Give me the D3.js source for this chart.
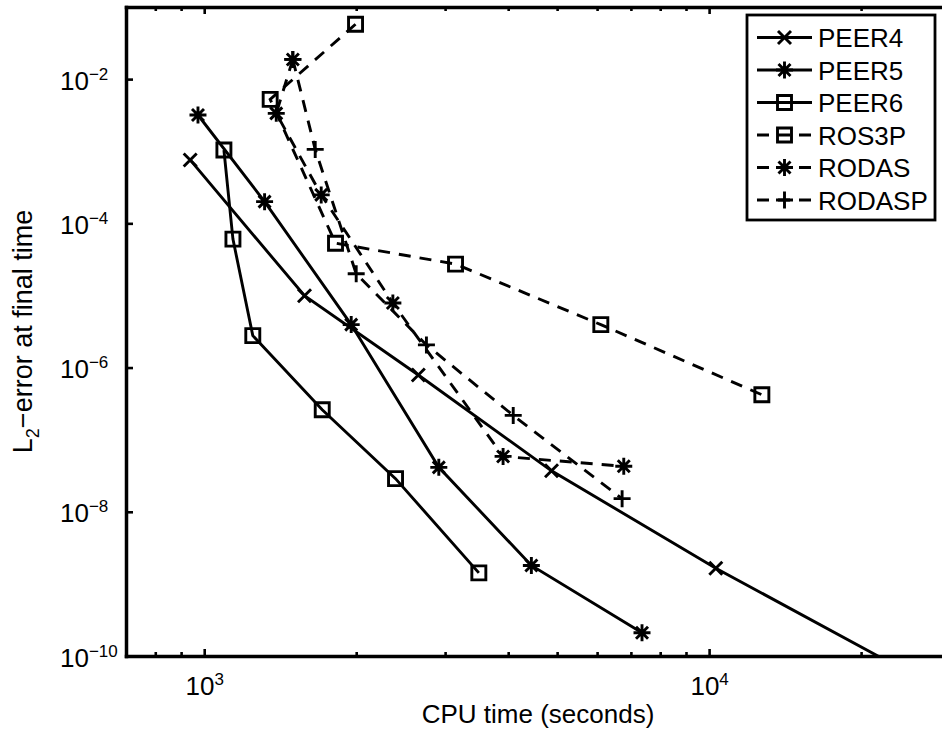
<!DOCTYPE html>
<html>
<head>
<meta charset="utf-8">
<script src="https://cdn.jsdelivr.net/npm/d3@7"></script>
<style>
body { margin: 0; background: #fff; }
svg { display: block; font-family: "Liberation Sans", Arial, Helvetica, sans-serif; }
</style>
</head>
<body>
<div id="chart"></div>
<script>
// values (CPU time in seconds, L2 error at final time)
const seriesNames = ["PEER4", "PEER5", "PEER6", "ROS3P", "RODAS", "RODASP"];

const cpuPEER4 = [938, 1580, 2655, 4874, 10310, 23900];
const errPEER4 = [7.57e-4, 9.9e-6, 7.9e-7, 3.7e-8, 1.65e-9, 6.8e-11];

const cpuPEER5 = [972, 1317, 1955, 2915, 4446, 7364];
const errPEER5 = [3.18e-3, 2.0e-4, 3.94e-6, 4.13e-8, 1.8e-9, 2.1e-10];

const cpuPEER6 = [1094, 1140, 1248, 1713, 2393, 3499];
const errPEER6 = [1.04e-3, 6.04e-5, 2.77e-6, 2.6e-7, 2.88e-8, 1.42e-9];

const cpuROS3P = [1994, 1351, 1820, 3146, 6103, 12720];
const errROS3P = [5.77e-2, 5.24e-3, 5.3e-5, 2.72e-5, 3.94e-6, 4.2e-7];

const cpuRODAS = [1498, 1389, 1705, 2364, 3908, 6776];
const errRODAS = [1.875e-2, 3.35e-3, 2.48e-4, 7.85e-6, 5.86e-8, 4.27e-8];

const cpuRODASP = [1498, 1659, 2000, 2755, 4093, 6725];
const errRODASP = [1.875e-2, 1.06e-3, 2.0e-5, 2.06e-6, 2.17e-7, 1.52e-8];

const xLimits = [700, 30000];
const yLimits = [1e-10, 1e-1];
const xMajorTicks = [1e3, 1e4];
const xMinorTicks = [800, 900, 2000, 3000, 4000, 5000, 6000, 7000, 8000, 9000, 20000];
const yTicks = [1e-10, 1e-8, 1e-6, 1e-4, 1e-2];

const xLabel = "CPU time (seconds)";

// styles per series
const styles = {
    PEER4:  { marker: "x",      dashed: false },
    PEER5:  { marker: "star",   dashed: false },
    PEER6:  { marker: "square", dashed: false },
    ROS3P:  { marker: "square", dashed: true },
    RODAS:  { marker: "star",   dashed: true },
    RODASP: { marker: "plus",   dashed: true }
};

const series = [
    { name: "PEER4", cpu: cpuPEER4, err: errPEER4 },
    { name: "PEER5", cpu: cpuPEER5, err: errPEER5 },
    { name: "PEER6", cpu: cpuPEER6, err: errPEER6 },
    { name: "ROS3P", cpu: cpuROS3P, err: errROS3P },
    { name: "RODAS", cpu: cpuRODAS, err: errRODAS },
    { name: "RODASP", cpu: cpuRODASP, err: errRODASP }
].map(s => ({ name: s.name, points: d3.zip(s.cpu, s.err).map(([t, e]) => ({ t, e })) }));

const W = 942, H = 733;
const box = { left: 126, right: 950, top: 7, bottom: 656 };
const lw = 2.9;
const dash = "12,9";

function markerPath(type) {
    if (type === "x") { const r = 6.5; return `M${-r},${-r}L${r},${r}M${-r},${r}L${r},${-r}`; }
    if (type === "plus") { const r = 8.5; return `M${-r},0H${r}M0,${-r}V${r}`; }
    if (type === "star") { const r = 8.5, d = 6; return `M${-r},0H${r}M0,${-r}V${r}M${-d},${-d}L${d},${d}M${-d},${d}L${d},${-d}`; }
    const s = 7; return `M${-s},${-s}H${s}V${s}H${-s}Z`;
}

const svg = d3.select("#chart").append("svg")
    .attr("width", W).attr("height", H);

const x = d3.scaleLog().domain(xLimits).range([box.left, box.right]);
const y = d3.scaleLog().domain(yLimits).range([box.bottom, box.top]);

svg.append("defs").append("clipPath").attr("id", "plot-clip")
  .append("rect")
    .attr("x", box.left).attr("y", box.top)
    .attr("width", box.right - box.left).attr("height", box.bottom - box.top);

// data
const plot = svg.append("g").attr("clip-path", "url(#plot-clip)");
const line = d3.line().x(d => x(d.t)).y(d => y(d.e));

series.forEach(s => {
    const st = styles[s.name];
    plot.append("path")
        .datum(s.points)
        .attr("d", line)
        .attr("fill", "none")
        .attr("stroke", "#000")
        .attr("stroke-width", lw)
        .attr("stroke-dasharray", st.dashed ? dash : null);
    plot.selectAll(null)
        .data(s.points)
        .enter().append("path")
        .attr("transform", d => `translate(${x(d.t)},${y(d.e)})`)
        .attr("d", markerPath(st.marker))
        .attr("fill", "none")
        .attr("stroke", "#000")
        .attr("stroke-width", lw);
});

// axes (ticks point inwards like MATLAB)
function styleAxis(g, keepDomain) {
    if (keepDomain) g.select(".domain").attr("stroke-width", 3.5).attr("stroke-linecap", "square");
    else g.select(".domain").remove();
    g.selectAll(".tick line").attr("stroke-width", 2.6);
}

const gxMajor = svg.append("g").attr("transform", `translate(0,${box.bottom})`)
    .call(d3.axisBottom(x).tickValues(xMajorTicks).tickSizeInner(-7).tickSizeOuter(0));
styleAxis(gxMajor, true);
svg.append("g").attr("transform", `translate(0,${box.bottom})`)
    .call(d3.axisBottom(x).tickValues(xMinorTicks).tickSizeInner(-4).tickSizeOuter(0).tickFormat(""))
    .call(g => styleAxis(g, false));
svg.append("g").attr("transform", `translate(0,${box.top})`)
    .call(d3.axisTop(x).tickValues(xMajorTicks).tickSizeInner(-7).tickSizeOuter(0).tickFormat(""))
    .call(g => styleAxis(g, true));
svg.append("g").attr("transform", `translate(0,${box.top})`)
    .call(d3.axisTop(x).tickValues(xMinorTicks).tickSizeInner(-4).tickSizeOuter(0).tickFormat(""))
    .call(g => styleAxis(g, false));

const gy = svg.append("g").attr("transform", `translate(${box.left},0)`)
    .call(d3.axisLeft(y).tickValues(yTicks).tickSizeInner(-7).tickSizeOuter(0));
styleAxis(gy, true);
svg.append("g").attr("transform", `translate(${box.right},0)`)
    .call(d3.axisRight(y).tickValues(yTicks).tickSizeInner(-7).tickSizeOuter(0).tickFormat(""))
    .call(g => styleAxis(g, true));

const exp = v => String(Math.round(Math.log10(v))).replace("-", "\u2212");

gxMajor.selectAll(".tick text").each(function(d) {
    const t = d3.select(this).text(null)
        .attr("y", 39).attr("dy", null)
        .attr("font-size", 26).attr("fill", "#000")
        .attr("font-family", "Liberation Sans, Arial, sans-serif");
    t.append("tspan").text("10");
    t.append("tspan").attr("dy", -10).attr("font-size", 17).text(exp(d));
});

gy.selectAll(".tick text").each(function(d) {
    const t = d3.select(this).text(null)
        .attr("x", -66).attr("y", 10).attr("dy", null)
        .attr("text-anchor", "start")
        .attr("font-size", 26).attr("fill", "#000")
        .attr("font-family", "Liberation Sans, Arial, sans-serif");
    t.append("tspan").text("10");
    t.append("tspan").attr("dy", -10).attr("font-size", 17).text(exp(d));
});

// axis labels
svg.append("text")
    .attr("x", (box.left + box.right) / 2)
    .attr("y", 723)
    .attr("text-anchor", "middle")
    .attr("font-size", 26)
    .text(xLabel);

const yl = svg.append("text")
    .attr("transform", `translate(32,${(box.top + box.bottom) / 2}) rotate(-90)`)
    .attr("text-anchor", "middle")
    .attr("font-size", 27);
yl.append("tspan").text("L");
yl.append("tspan").attr("font-size", 18).attr("dy", 7).text("2");
yl.append("tspan").attr("dy", -7).text("\u2212error at final time");

// legend
const legend = svg.append("g").attr("class", "legend");
legend.append("rect")
    .attr("x", 747).attr("y", 15)
    .attr("width", 188).attr("height", 205)
    .attr("fill", "#fff").attr("stroke", "#000").attr("stroke-width", 2.8);

seriesNames.forEach((name, i) => {
    const st = styles[name];
    const cy = 37.5 + 32.5 * i;
    const row = legend.append("g").attr("transform", `translate(0,${cy})`);
    row.append("line")
        .attr("x1", 757).attr("x2", 812)
        .attr("stroke", "#000").attr("stroke-width", lw)
        .attr("stroke-dasharray", st.dashed ? dash : null);
    row.append("path")
        .attr("transform", "translate(784.5,0)")
        .attr("d", markerPath(st.marker))
        .attr("fill", "none").attr("stroke", "#000").attr("stroke-width", lw);
    row.append("text")
        .attr("x", 818).attr("y", 9.5)
        .attr("font-size", 26)
        .text(name);
});
</script>
</body>
</html>
